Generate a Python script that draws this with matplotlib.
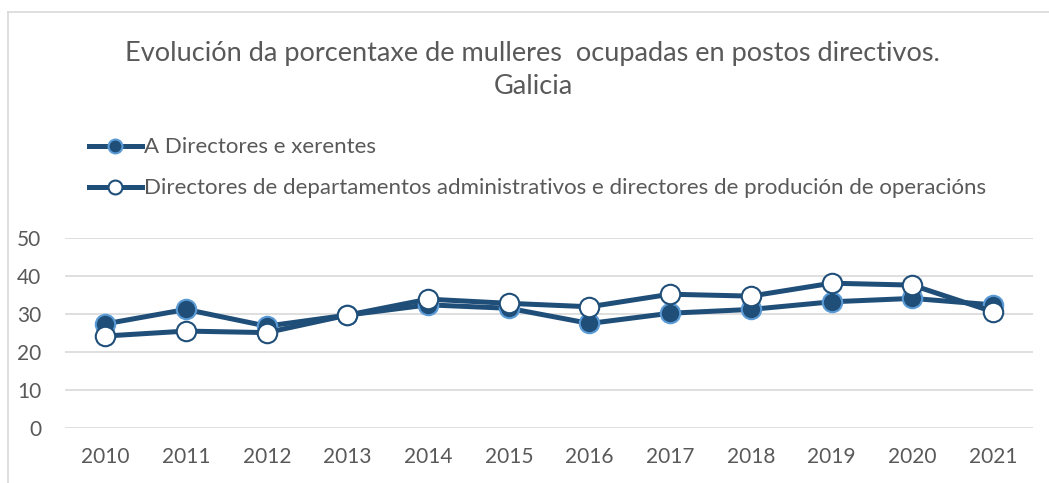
import matplotlib
matplotlib.use("Agg")
import matplotlib.pyplot as plt
from matplotlib.lines import Line2D

years = [2010, 2011, 2012, 2013, 2014, 2015, 2016, 2017, 2018, 2019, 2020, 2021]
directores_xerentes = [27.4, 31.2, 26.8, 29.7, 32.4, 31.5, 27.5, 30.2, 31.2, 33.2, 34.1, 32.4]
directores_dept = [24.2, 25.5, 25.1, 29.7, 33.9, 32.8, 31.9, 35.2, 34.7, 38.1, 37.6, 30.6]
yticks = [0, 10, 20, 30, 40, 50]

label_a = "A Directores e xerentes"
label_b = "Directores de departamentos administrativos e directores de produción de operacións"
title = "Evolución da porcentaxe de mulleres  ocupadas en postos directivos.\nGalicia"

dark = "#1F4E79"
light = "#5B9BD5"
grey = "#595959"

plt.rcParams["font.family"] = ["Lato", "DejaVu Sans"]

fig = plt.figure(figsize=(10.49, 4.83), dpi=100)
ax = fig.add_axes([0.062, 0.1139, 0.923, 0.3934])

x = list(range(len(years)))
ax.plot(x, directores_xerentes, color=dark, lw=3.6, marker="o", ms=14,
        mfc=dark, mec=light, mew=1.5, zorder=3, solid_joinstyle="round")
ax.plot(x, directores_dept, color=dark, lw=3.6, marker="o", ms=14,
        mfc="white", mec=dark, mew=1.5, zorder=4, solid_joinstyle="round")

ax.set_xlim(-0.5, len(years) - 0.5)
ax.set_ylim(0, 50)
ax.set_yticks(yticks)
ax.set_xticks(x)
ax.set_xticklabels([str(y) for y in years])
ax.grid(axis="y", color="#D9D9D9", lw=1.2)
ax.set_axisbelow(True)
for s in ax.spines.values():
    s.set_visible(False)
ax.tick_params(length=0, labelsize=15, colors=grey)
ax.tick_params(axis="y", pad=17)
ax.tick_params(axis="x", pad=14)

fig.text(0.508, 0.855, title, ha="center", va="center", fontsize=19.5,
         color=grey, linespacing=1.4)

handles = [
    Line2D([], [], color=dark, lw=3.6, marker="o", ms=10, mfc=dark, mec=light, mew=1.5),
    Line2D([], [], color=dark, lw=3.6, marker="o", ms=10, mfc="white", mec=dark, mew=1.5),
]
fig.legend(handles, [label_a, label_b], loc="upper left",
           bbox_to_anchor=(0.076, 0.734), frameon=False, fontsize=16,
           labelcolor=grey, handlelength=2.4, handletextpad=0.1,
           labelspacing=0.95, borderaxespad=0)

# chart frame (left and top edges visible)
fig.add_artist(Line2D([0.008, 0.008], [0, 0.975], color="#D9D9D9", lw=1.2,
                      transform=fig.transFigure))
fig.add_artist(Line2D([0.008, 1.0], [0.975, 0.975], color="#D9D9D9", lw=1.2,
                      transform=fig.transFigure))

fig.savefig("out.png", dpi=100)
